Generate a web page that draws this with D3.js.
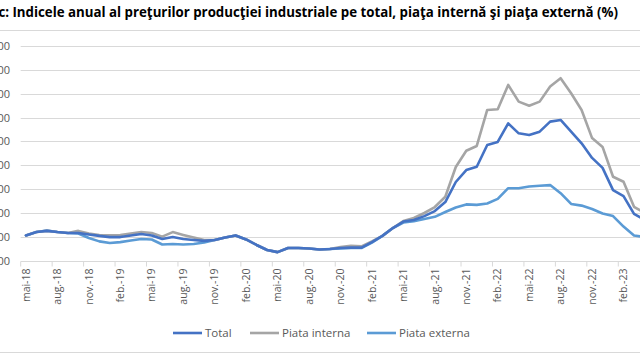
<!DOCTYPE html>
<html>
<head>
<meta charset="utf-8">
<script src="https://cdn.jsdelivr.net/npm/d3@7"></script>
<style>
  html, body { margin: 0; padding: 0; background: #fff; overflow: hidden; }
  svg { display: block; font-family: "Open Sans", "Noto Sans", sans-serif; }
</style>
</head>
<body>
<div id="chart"></div>
<script>
const months = [
  'mai-18', 'iun.-18', 'iul.-18', 'aug.-18', 'sept.-18', 'oct.-18', 'nov.-18', 'dec.-18',
  'ian.-19', 'feb.-19', 'mar.-19', 'apr.-19', 'mai-19', 'iun.-19', 'iul.-19', 'aug.-19',
  'sept.-19', 'oct.-19', 'nov.-19', 'dec.-19', 'ian.-20', 'feb.-20', 'mar.-20', 'apr.-20',
  'mai-20', 'iun.-20', 'iul.-20', 'aug.-20', 'sept.-20', 'oct.-20', 'nov.-20', 'dec.-20',
  'ian.-21', 'feb.-21', 'mar.-21', 'apr.-21', 'mai-21', 'iun.-21', 'iul.-21', 'aug.-21',
  'sept.-21', 'oct.-21', 'nov.-21', 'dec.-21', 'ian.-22', 'feb.-22', 'mar.-22', 'apr.-22',
  'mai-22', 'iun.-22', 'iul.-22', 'aug.-22', 'sept.-22', 'oct.-22', 'nov.-22', 'dec.-22',
  'ian.-23', 'feb.-23', 'mar.-23', 'apr.-23'
];

const total = [
  105.6, 107.0, 107.5, 107.0, 106.6, 106.6, 106.0, 105.4, 104.9, 104.9, 105.6, 106.2,
  105.6, 104.1, 104.9, 104.1, 103.7, 103.3, 103.7, 104.7, 105.6, 103.9, 101.6, 99.5,
  98.6, 100.3, 100.3, 100.1, 99.7, 99.9, 100.3, 100.5, 100.5, 102.8, 105.4, 108.7,
  111.4, 112.1, 113.7, 115.8, 119.6, 128.0, 133.0, 134.4, 143.5, 144.8, 152.6, 148.4,
  147.7, 149.1, 153.3, 154.0, 149.1, 144.2, 138.1, 133.9, 124.6, 122.1, 114.6, 112.1
];

const piataInterna = [
  105.6, 107.0, 107.5, 107.0, 106.6, 107.5, 106.4, 105.8, 105.6, 105.8, 106.4, 107.0,
  106.6, 105.1, 107.0, 105.8, 104.7, 103.7, 103.7, 104.7, 105.6, 103.9, 101.6, 99.5,
  98.6, 100.3, 100.3, 100.1, 99.7, 99.9, 100.7, 101.2, 101.0, 103.1, 105.4, 108.7,
  111.6, 112.9, 115.0, 117.5, 121.8, 134.3, 141.1, 143.1, 158.2, 158.5, 168.7, 161.7,
  160.0, 161.7, 168.0, 171.5, 165.2, 158.2, 146.4, 142.7, 130.2, 128.1, 117.6, 115.0
];

const piataExterna = [
  105.6, 107.0, 107.7, 107.0, 106.6, 106.4, 104.5, 103.1, 102.4, 102.8, 103.5, 104.1,
  103.9, 101.8, 102.0, 101.8, 102.0, 102.6, 103.7, 104.7, 105.6, 103.9, 101.6, 99.5,
  98.6, 100.3, 100.3, 100.1, 99.7, 99.9, 100.1, 100.3, 100.3, 102.6, 105.4, 108.7,
  111.0, 111.6, 112.5, 113.4, 115.4, 117.3, 118.6, 118.4, 119.0, 120.9, 125.4, 125.4,
  126.1, 126.4, 126.7, 123.3, 118.8, 118.1, 116.7, 114.8, 113.7, 109.3, 105.6, 104.9
];

const yTicks = [95, 105, 115, 125, 135, 145, 155, 165, 175, 185];

const series = [
  { name: 'Total', values: total, color: '#4472c4' },
  { name: 'Piata interna', values: piataInterna, color: '#a5a5a5' },
  { name: 'Piata externa', values: piataExterna, color: '#5b9bd5' }
];

const width = 640;
const height = 360;
const plotLeft = 20.7;
const catWidth = 10.484;

const svg = d3.select('#chart')
  .append('svg')
  .attr('width', width)
  .attr('height', height);

// title, cut off at the left like the source
const titleMain = 'Indicele anual al preţurilor producţiei industriale pe total, piaţa internă şi piaţa externă (%)';
const probe = svg.append('text')
  .attr('font-size', 14)
  .attr('font-weight', 'bold')
  .style('font-family', '"Open Sans", sans-serif')
  .text(titleMain);
const probeLen = probe.node().getComputedTextLength();
probe.remove();
const titleSize = 14 * 606 / probeLen;

svg.append('text')
  .attr('x', 618)
  .attr('y', 17)
  .attr('text-anchor', 'end')
  .attr('font-size', titleSize)
  .attr('font-weight', 'bold')
  .attr('fill', '#000')
  .text('Grafic: ' + titleMain);

svg.append('line')
  .attr('x1', 0).attr('x2', width)
  .attr('y1', 30.5).attr('y2', 30.5)
  .attr('stroke', '#d9d9d9');

svg.append('line')
  .attr('x1', 0).attr('x2', width)
  .attr('y1', 352.5).attr('y2', 352.5)
  .attr('stroke', '#d9d9d9');

const x = d3.scaleBand()
  .domain(months)
  .range([plotLeft, plotLeft + months.length * catWidth])
  .padding(0);

const y = d3.scaleLinear()
  .domain([95, 185])
  .range([260.7, 46.05]);

const cx = m => x(m) + x.bandwidth() / 2;

// grid
svg.append('g')
  .selectAll('line')
  .data(yTicks.slice(1))
  .enter()
  .append('line')
  .attr('x1', plotLeft)
  .attr('x2', width)
  .attr('y1', d => Math.round(y(d)) + 0.5)
  .attr('y2', d => Math.round(y(d)) + 0.5)
  .attr('stroke', '#d9d9d9')
  .attr('stroke-width', 1);

// y labels (mostly clipped at the left edge)
svg.append('g')
  .selectAll('text')
  .data(yTicks)
  .enter()
  .append('text')
  .attr('x', 10)
  .attr('y', d => y(d) + 4)
  .attr('text-anchor', 'end')
  .attr('font-size', 11)
  .attr('fill', '#595959')
  .text(d => d3.format('.2f')(d).replace('.', ','));

// x axis
const labelMonths = months.filter((m, i) => i % 3 === 0);
const xAxis = svg.append('g')
  .attr('transform', `translate(0, ${Math.round(y(95)) + 0.5})`)
  .call(d3.axisBottom(x).tickValues(labelMonths).tickSize(5).tickSizeOuter(0));

xAxis.select('.domain')
  .attr('stroke', '#d9d9d9')
  .attr('d', `M${plotLeft},0H${width}`);

xAxis.selectAll('.tick line')
  .attr('stroke', '#d9d9d9')
  .attr('transform', `translate(${-x.bandwidth() / 2}, 0)`);

xAxis.selectAll('.tick text')
  .attr('fill', '#595959')
  .attr('font-size', 10.5)
  .style('font-family', '"Open Sans", sans-serif')
  .attr('text-anchor', 'end')
  .attr('dy', '0.35em')
  .attr('transform', 'translate(0, 7) rotate(-90)')
  .attr('x', 0)
  .attr('y', 0);

// lines
const line = d3.line()
  .x((d, i) => cx(months[i]))
  .y(d => y(d));

svg.append('g')
  .selectAll('path')
  .data([series[2], series[1], series[0]])
  .enter()
  .append('path')
  .attr('fill', 'none')
  .attr('stroke', d => d.color)
  .attr('stroke-width', 2.6)
  .attr('stroke-linejoin', 'round')
  .attr('stroke-linecap', 'round')
  .attr('d', d => line(d.values));

// legend
const legendX = [173, 250, 367];
const legend = svg.append('g')
  .selectAll('g')
  .data(series)
  .enter()
  .append('g')
  .attr('transform', (d, i) => `translate(${legendX[i]}, 333)`);

legend.append('line')
  .attr('x1', 0).attr('x2', 29)
  .attr('y1', 0).attr('y2', 0)
  .attr('stroke', d => d.color)
  .attr('stroke-width', 2.6);

legend.append('text')
  .attr('x', 32)
  .attr('y', 4)
  .attr('font-size', 11.5)
  .attr('fill', '#595959')
  .text(d => d.name);
</script>
</body>
</html>
